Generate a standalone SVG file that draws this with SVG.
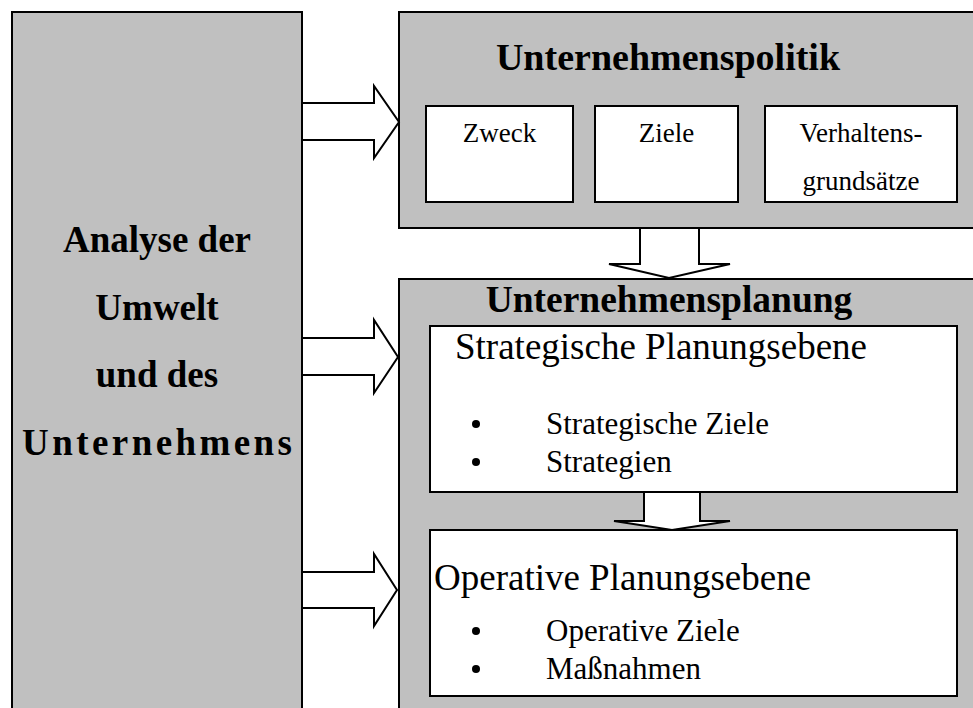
<svg xmlns="http://www.w3.org/2000/svg" width="973" height="708" viewBox="0 0 973 708">
<style>
.gray{fill:#c0c0c0;stroke:#000;stroke-width:2}
.white{fill:#fff;stroke:#000;stroke-width:2}
.arr{fill:#fff;stroke:#000;stroke-width:2;stroke-linejoin:miter}
.hb{font-family:"Liberation Serif","Times New Roman",serif;font-weight:bold;font-size:37px;fill:#000;text-anchor:middle}
.sm{font-family:"Liberation Serif","Times New Roman",serif;font-size:27px;fill:#000;text-anchor:middle}
.h2{font-family:"Liberation Serif","Times New Roman",serif;font-size:37px;fill:#000}
.it{font-family:"Liberation Serif","Times New Roman",serif;font-size:31px;fill:#000}
</style>
<rect width="973" height="708" fill="#fff"/>
<g id="analyse">
<rect class="gray" x="12" y="12" width="290" height="710"/>
<text class="hb" x="157" y="252">Analyse der</text>
<text class="hb" x="157" y="320">Umwelt</text>
<text class="hb" x="157" y="387">und des</text>
<text class="hb" x="157" y="455" textLength="270" lengthAdjust="spacing">Unternehmens</text>
</g>
<g id="unternehmenspolitik">
<rect class="gray" x="399" y="12" width="590" height="216"/>
<text class="hb" x="668" y="70" style="font-size:38px">Unternehmenspolitik</text>
</g>
<g id="zweck">
<rect class="white" x="426" y="106" width="147" height="96"/>
<text class="sm" x="499.5" y="142">Zweck</text>
</g>
<g id="ziele">
<rect class="white" x="595" y="106" width="143" height="96"/>
<text class="sm" x="666.5" y="142">Ziele</text>
</g>
<g id="verhaltensgrundsaetze">
<rect class="white" x="765" y="106" width="192" height="96"/>
<text class="sm" x="861" y="142">Verhaltens-</text>
<text class="sm" x="861" y="190">grundsätze</text>
</g>
<g id="unternehmensplanung">
<rect class="gray" x="399" y="279" width="590" height="440"/>
<text class="hb" x="669" y="312" style="font-size:37.5px">Unternehmensplanung</text>
</g>
<g id="strategische">
<rect class="white" x="430" y="326" width="527" height="166"/>
<text class="h2" x="455" y="359">Strategische Planungsebene</text>
<circle cx="476" cy="424" r="4"/>
<circle cx="476" cy="462" r="4"/>
<text class="it" x="546" y="434">Strategische Ziele</text>
<text class="it" x="546" y="472">Strategien</text>
</g>
<g id="operative">
<rect class="white" x="430" y="530" width="527" height="166"/>
<text class="h2" x="434" y="590">Operative Planungsebene</text>
<circle cx="476" cy="631" r="4"/>
<circle cx="476" cy="669" r="4"/>
<text class="it" x="546" y="641">Operative Ziele</text>
<text class="it" x="546" y="679">Maßnahmen</text>
</g>
<g id="connectors">
<polygon class="arr" points="302,103 374,103 374,86 399,122 374,158 374,140 302,140"/>
<polygon class="arr" points="302,338 374,338 374,320 398,357 374,393 374,375 302,375"/>
<polygon class="arr" points="302,572 374,572 374,554 397,590 374,626 374,608 302,608"/>
<polygon class="arr" points="640,228 699,228 699,264 730,264 669,278 609,264 640,264"/>
<polygon class="arr" points="644,492 700,492 700,521 730,521 672,530 614,521 644,521"/>
</g>
</svg>
